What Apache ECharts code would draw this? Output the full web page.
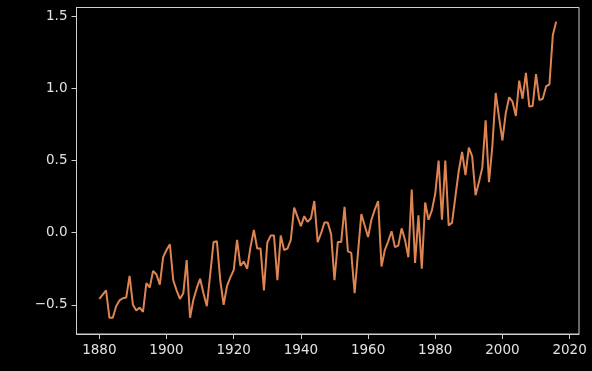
<!DOCTYPE html>
<html>
<head>
<meta charset="utf-8">
<script src="https://cdn.jsdelivr.net/npm/echarts@6/dist/echarts.min.js"></script>
<style>
html,body{margin:0;padding:0;background:#000;}
#chart{width:592px;height:371px;}
</style>
</head>
<body>
<div id="chart"></div>
<script>
const startYear = 1880;
const anomalies = [
 -0.46, -0.43, -0.40, -0.59, -0.59, -0.51, -0.47, -0.455, -0.45, -0.30,
 -0.50, -0.54, -0.52, -0.55, -0.35, -0.38, -0.265, -0.29, -0.36, -0.17,
 -0.12, -0.08, -0.33, -0.40, -0.46, -0.42, -0.19, -0.59, -0.465, -0.385,
 -0.32, -0.42, -0.51, -0.29, -0.065, -0.06, -0.33, -0.50, -0.37, -0.31,
 -0.26, -0.05, -0.23, -0.20, -0.25, -0.10, 0.02, -0.11, -0.11, -0.40,
 -0.07, -0.02, -0.02, -0.33, -0.02, -0.12, -0.11, -0.05, 0.175, 0.11,
 0.045, 0.115, 0.075, 0.10, 0.22, -0.065, -0.005, 0.07, 0.07, -0.01,
 -0.33, -0.065, -0.065, 0.18, -0.13, -0.14, -0.42, -0.14, 0.13, 0.05,
 -0.03, 0.09, 0.16, 0.22, -0.235, -0.12, -0.06, 0.01, -0.10, -0.09,
 0.03, -0.05, -0.17, 0.30, -0.21, 0.12, -0.25, 0.21, 0.09, 0.155,
 0.27, 0.50, 0.09, 0.50, 0.05, 0.07, 0.25, 0.43, 0.56, 0.40,
 0.59, 0.53, 0.26, 0.35, 0.45, 0.78, 0.35, 0.60, 0.97, 0.80,
 0.64, 0.83, 0.94, 0.91, 0.81, 1.055, 0.93, 1.11, 0.875, 0.88,
 1.10, 0.92, 0.93, 1.015, 1.03, 1.37, 1.465
];
const years = anomalies.map((_, i) => startYear + i);
const xTicks = [1880, 1900, 1920, 1940, 1960, 1980, 2000, 2020];
const yTicks = [-0.5, 0.0, 0.5, 1.0, 1.5];

const axisColor = '#cfcfcf';
const textColor = '#e2e2e2';
const fontFamily = 'DejaVu Sans';

const chart = echarts.init(document.getElementById('chart'), null, {renderer: 'canvas'});
chart.setOption({
  backgroundColor: '#000000',
  animation: false,
  grid: {
    left: 76.5, right: 13, top: 7.5, bottom: 37,
    show: true, borderColor: axisColor, borderWidth: 1,
    outerBoundsMode: 'none', containLabel: false
  },
  xAxis: {
    type: 'value',
    min: 1873.2, max: 2022.8,
    splitLine: {show: false},
    axisLine: {show: true, onZero: false, lineStyle: {color: axisColor, width: 1}},
    axisTick: {show: true, length: 5, inside: false, customValues: xTicks, lineStyle: {color: axisColor}},
    axisLabel: {
      customValues: xTicks, margin: 9, color: textColor, fontSize: 13.5, fontFamily: fontFamily,
      formatter: v => String(v)
    }
  },
  yAxis: {
    type: 'value',
    min: -0.703, max: 1.563,
    splitLine: {show: false},
    axisLine: {show: true, onZero: false, lineStyle: {color: axisColor, width: 1}},
    axisTick: {show: true, length: 5, inside: false, customValues: yTicks, lineStyle: {color: axisColor}},
    axisLabel: {
      customValues: yTicks, margin: 9, color: textColor, fontSize: 13.5, fontFamily: fontFamily,
      formatter: v => v.toFixed(1).replace('-', '\u2212')
    }
  },
  series: [{
    type: 'line',
    data: years.map((y, i) => [y, anomalies[i]]),
    showSymbol: false,
    symbol: 'none',
    lineStyle: {color: '#dd8452', width: 2},
    itemStyle: {color: '#dd8452'}
  }]
});
</script>
</body>
</html>
